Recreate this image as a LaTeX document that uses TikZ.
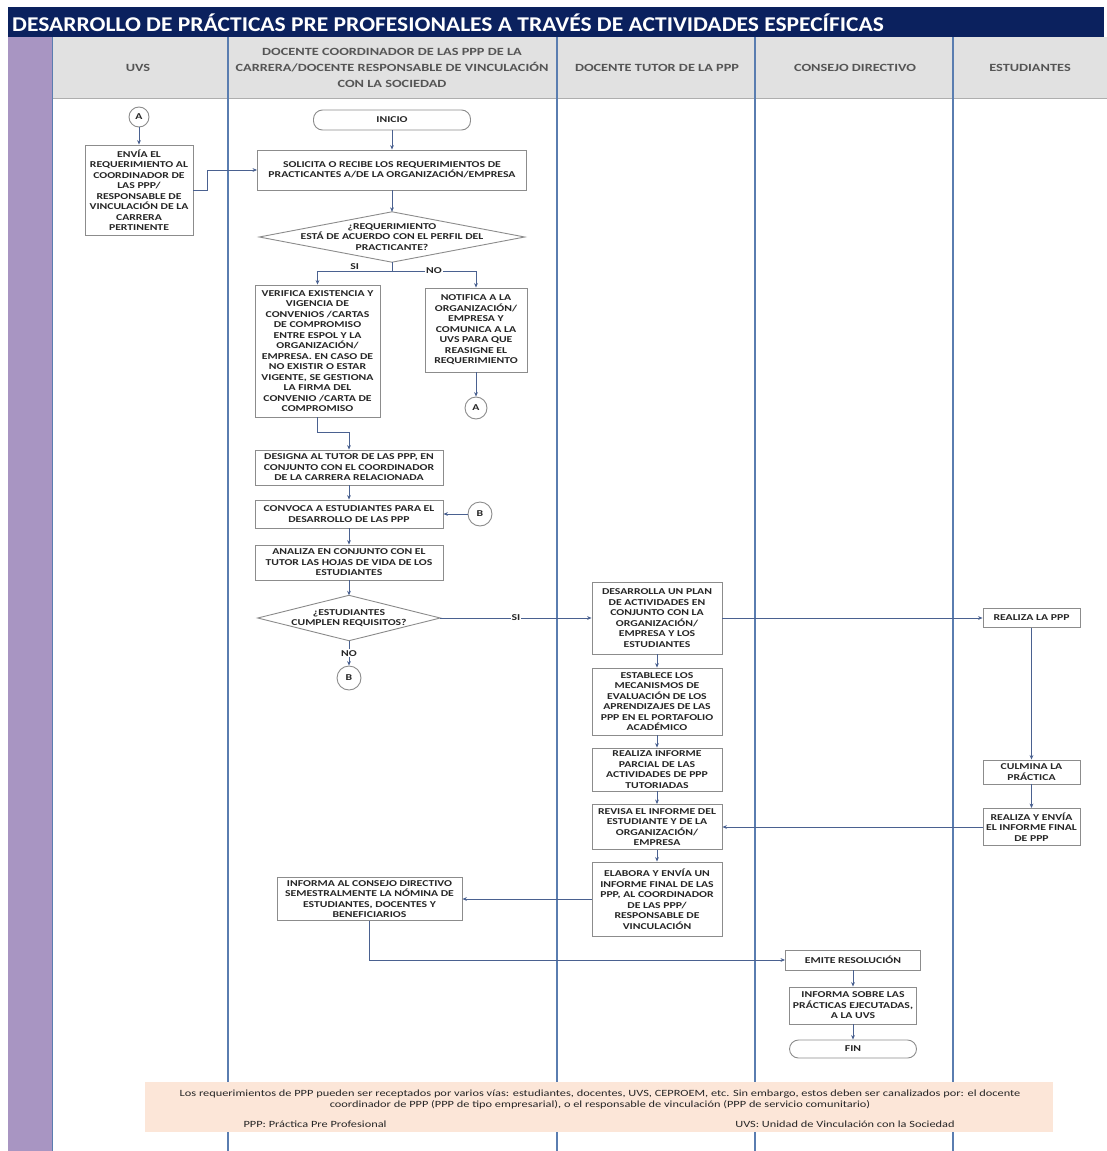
\documentclass[tikz,border=0pt]{standalone}
\usepackage{fontspec}
\setmainfont{Carlito}[FakeStretch=1.3]
\newfontfamily\titlefont{Carlito}[FakeStretch=1.12]
\usetikzlibrary{arrows.meta,calc}
\definecolor{navy}{HTML}{0B215E}
\definecolor{purp}{HTML}{A895C2}
\definecolor{hdrgrey}{HTML}{E1E1E1}
\definecolor{lanec}{HTML}{5A7DB0}
\definecolor{boxc}{HTML}{8C8C8C}
\definecolor{txt}{HTML}{262626}
\definecolor{connc}{HTML}{4A6190}
\definecolor{peach}{HTML}{FCE6D8}
\definecolor{hdrtxt}{HTML}{555555}
\begin{document}
\begin{tikzpicture}[x=1pt,y=-1pt,
  box/.style={draw=boxc, line width=0.9pt, fill=white, text=txt, font=\bfseries\fontsize{9}{10.5}\selectfont, align=center, inner sep=0pt},
  term/.style={box, rounded corners=9pt},
  conncirc/.style={circle, draw=boxc, line width=0.9pt, fill=white, text=txt, font=\bfseries\fontsize{9}{10}\selectfont, inner sep=0pt, minimum size=#1},
  dec/.style={text=txt, font=\bfseries\fontsize{9}{10.5}\selectfont, align=center, inner sep=0pt},
  hdr/.style={text=hdrtxt, font=\bfseries\fontsize{11}{16}\selectfont, align=center},
  conn/.style={draw=connc, line width=0.8pt, -{Stealth[length=4.5pt,width=3.8pt]}},
  plain/.style={draw=connc, line width=0.8pt},
  lbl/.style={text=txt, font=\bfseries\fontsize{9}{10}\selectfont, inner sep=1pt},
  lane/.style={draw=lanec, line width=1.3pt},
  notetxt/.style={text=txt, font=\fontsize{9.5}{11}\selectfont, align=center, inner sep=0pt}
]
\useasboundingbox (0,0) rectangle (1107,1151);
\fill[white] (0,0) rectangle (1107,1151);
% title bar
\fill[navy] (8,7) rectangle (1104,37);
\node[anchor=west, text=white, font=\titlefont\bfseries\fontsize{21}{24}\selectfont, inner sep=0pt] (title) at (12,23) {DESARROLLO DE PRÁCTICAS PRE PROFESIONALES A TRAVÉS DE ACTIVIDADES ESPECÍFICAS};
% purple strip and header
\fill[purp] (8,37) rectangle (52,1151);
\fill[hdrgrey] (52,37) rectangle (1107,98);
\draw[boxc!70, line width=0.8pt] (52,98) -- (1107,98);
\draw[lanec, line width=0.8pt] (52,37) -- (52,1151);
% lanes
\foreach \xx in {228,557,755,953} {\draw[lane] (\xx,37) -- (\xx,1151);}
% header labels
\node[hdr] (h1) at (138,68) {UVS};
\node[hdr] (h2) at (392,68) {DOCENTE COORDINADOR DE LAS PPP DE LA\\CARRERA/DOCENTE RESPONSABLE DE VINCULACIÓN\\CON LA SOCIEDAD};
\node[hdr] (h3) at (657,68) {DOCENTE TUTOR DE LA PPP};
\node[hdr] (h4) at (855,68) {CONSEJO DIRECTIVO};
\node[hdr] (h5) at (1030,68) {ESTUDIANTES};

% ---- UVS lane
\node[conncirc=20pt] (cA1) at (139,117) {A};
\node[box, minimum width=108pt, minimum height=90pt] (uvs) at (139,190) {ENVÍA EL\\REQUERIMIENTO AL\\COORDINADOR DE\\LAS PPP/\\RESPONSABLE DE\\VINCULACIÓN DE LA\\CARRERA\\PERTINENTE};

% ---- Docente coordinador lane
\node[term, minimum width=157pt, minimum height=20pt] (inicio) at (392,120) {INICIO};
\node[box, minimum width=269pt, minimum height=40pt] (solicita) at (392,170) {SOLICITA O RECIBE LOS REQUERIMIENTOS DE\\PRACTICANTES A/DE LA ORGANIZACIÓN/EMPRESA};
\node[dec, minimum width=265pt, minimum height=50pt] (d1) at (392,237) {¿REQUERIMIENTO\\ESTÁ DE ACUERDO CON EL PERFIL DEL\\PRACTICANTE?};
\draw[draw=boxc, line width=0.9pt] (d1.north) -- (d1.east) -- (d1.south) -- (d1.west) -- cycle;
\node[box, minimum width=125pt, minimum height=132pt] (verifica) at (317.5,351) {VERIFICA EXISTENCIA Y\\VIGENCIA DE\\CONVENIOS /CARTAS\\DE COMPROMISO\\ENTRE ESPOL Y LA\\ORGANIZACIÓN/\\EMPRESA. EN CASO DE\\NO EXISTIR O ESTAR\\VIGENTE, SE GESTIONA\\LA FIRMA DEL\\CONVENIO /CARTA DE\\COMPROMISO};
\node[box, minimum width=102pt, minimum height=84pt] (notifica) at (476,330) {NOTIFICA A LA\\ORGANIZACIÓN/\\EMPRESA Y\\COMUNICA A LA\\UVS PARA QUE\\REASIGNE EL\\REQUERIMIENTO};
\node[conncirc=22pt] (cA2) at (476,408) {A};
\node[box, minimum width=188pt, minimum height=35pt] (designa) at (349,467.5) {DESIGNA AL TUTOR DE LAS PPP, EN\\CONJUNTO CON EL COORDINADOR\\DE LA CARRERA RELACIONADA};
\node[box, minimum width=188pt, minimum height=28pt] (convoca) at (349,514) {CONVOCA A ESTUDIANTES PARA EL\\DESARROLLO DE LAS PPP};
\node[conncirc=24pt] (cB1) at (480,514) {B};
\node[box, minimum width=188pt, minimum height=35pt] (analiza) at (349,562.5) {ANALIZA EN CONJUNTO CON EL\\TUTOR LAS HOJAS DE VIDA DE LOS\\ESTUDIANTES};
\node[dec, minimum width=182pt, minimum height=45pt] (d2) at (349,618) {¿ESTUDIANTES\\CUMPLEN REQUISITOS?};
\draw[draw=boxc, line width=0.9pt] (d2.north) -- (d2.east) -- (d2.south) -- (d2.west) -- cycle;
\node[conncirc=24pt] (cB2) at (349,678) {B};
\node[box, minimum width=185pt, minimum height=43pt] (informacons) at (369.5,899) {INFORMA AL CONSEJO DIRECTIVO\\SEMESTRALMENTE LA NÓMINA DE\\ESTUDIANTES, DOCENTES Y\\BENEFICIARIOS};

% ---- Docente tutor lane
\node[box, minimum width=130pt, minimum height=72pt] (desarrolla) at (657,618) {DESARROLLA UN PLAN\\DE ACTIVIDADES EN\\CONJUNTO CON LA\\ORGANIZACIÓN/\\EMPRESA Y LOS\\ESTUDIANTES};
\node[box, minimum width=130pt, minimum height=67pt] (establece) at (657,701.5) {ESTABLECE LOS\\MECANISMOS DE\\EVALUACIÓN DE LOS\\APRENDIZAJES DE LAS\\PPP EN EL PORTAFOLIO\\ACADÉMICO};
\node[box, minimum width=130pt, minimum height=43pt] (realizainf) at (657,769.5) {REALIZA INFORME\\PARCIAL DE LAS\\ACTIVIDADES DE PPP\\TUTORIADAS};
\node[box, minimum width=130pt, minimum height=45pt] (revisa) at (657,827) {REVISA EL INFORME DEL\\ESTUDIANTE Y DE LA\\ORGANIZACIÓN/\\EMPRESA};
\node[box, minimum width=130pt, minimum height=74pt] (elabora) at (657,899) {ELABORA Y ENVÍA UN\\INFORME FINAL DE LAS\\PPP, AL COORDINADOR\\DE LAS PPP/\\RESPONSABLE DE\\VINCULACIÓN};

% ---- Consejo directivo lane
\node[box, minimum width=135pt, minimum height=20pt] (emite) at (853,960) {EMITE RESOLUCIÓN};
\node[box, minimum width=127pt, minimum height=37pt] (informasobre) at (853,1005.5) {INFORMA SOBRE LAS\\PRÁCTICAS EJECUTADAS,\\A LA UVS};
\node[term, minimum width=127pt, minimum height=18pt] (fin) at (853,1049) {FIN};

% ---- Estudiantes lane
\node[box, minimum width=97pt, minimum height=19pt] (realizappp) at (1031.5,618) {REALIZA LA PPP};
\node[box, minimum width=97pt, minimum height=24pt] (culmina) at (1031.5,772) {CULMINA LA\\PRÁCTICA};
\node[box, minimum width=97pt, minimum height=37pt] (realizaenv) at (1031.5,827) {REALIZA Y ENVÍA\\EL INFORME FINAL\\DE PPP};

% ---- connectors
\draw[conn] (cA1) -- (uvs);
\draw[conn] (uvs.east) -- ++(14,0) |- (solicita.west);
\draw[conn] (inicio) -- (solicita);
\draw[conn] (solicita) -- (d1.north);
\coordinate (br1) at (392,271);
\draw[plain] (d1.south) -- (br1);
\draw[conn] (br1) -| node[pos=0.25, above=0pt, lbl]{SI} (verifica.north);
\draw[conn] (br1) -| node[pos=0.25, lbl, fill=white]{NO} (notifica.north);
\draw[conn] (notifica) -- (cA2);
\draw[conn] (verifica.south) -- ++(0,15) -| (designa.north);
\draw[conn] (designa) -- (convoca);
\draw[conn] (convoca) -- (analiza);
\draw[conn] (analiza) -- (d2.north);
\draw[conn] (cB1) -- (convoca);
\draw[conn] (d2.east) -- node[lbl, fill=white]{SI} (desarrolla.west);
\draw[conn] (d2.south) -- node[lbl, fill=white]{NO} (cB2);
\draw[conn] (desarrolla.east) -- (realizappp.west);
\draw[conn] (desarrolla) -- (establece);
\draw[conn] (establece) -- (realizainf);
\draw[conn] (realizainf) -- (revisa);
\draw[conn] (revisa) -- (elabora);
\draw[conn] (realizappp) -- (culmina);
\draw[conn] (culmina) -- (realizaenv);
\draw[conn] (realizaenv.west) -- (revisa.east);
\draw[conn] (elabora.west) -- (informacons.east);
\draw[conn] (informacons.south) |- (emite.west);
\draw[conn] (emite) -- (informasobre);
\draw[conn] (informasobre) -- (fin);

% ---- footnote
\node[fill=peach, minimum width=908pt, minimum height=50pt, inner sep=0pt] (note) at (599,1107) {};
\node[notetxt] (note1) at (600,1099) {Los requerimientos de PPP pueden ser receptados por varios vías: estudiantes, docentes, UVS, CEPROEM, etc. Sin embargo, estos deben ser canalizados por: el docente\\coordinador de PPP (PPP de tipo empresarial), o el responsable de vinculación (PPP de servicio comunitario)};
\node[notetxt] (note2) at (315,1124) {PPP: Práctica Pre Profesional};
\node[notetxt] (note3) at (845,1124) {UVS: Unidad de Vinculación con la Sociedad};
\end{tikzpicture}
\end{document}
